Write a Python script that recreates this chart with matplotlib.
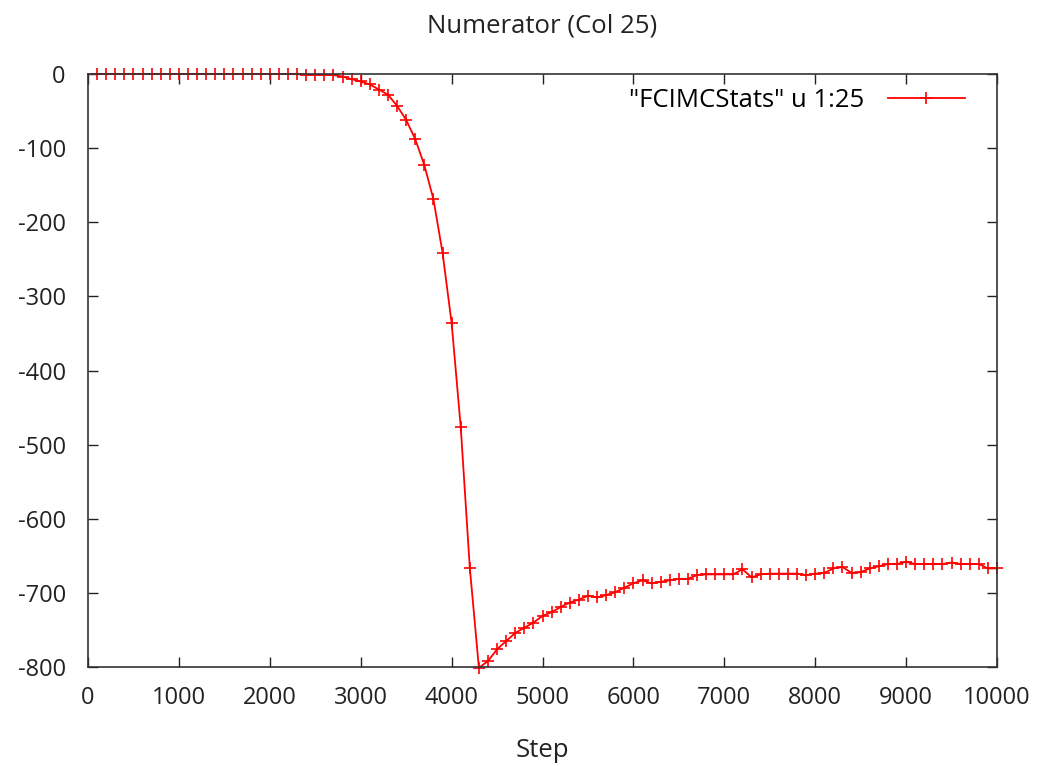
import matplotlib
matplotlib.use('Agg')
import matplotlib.pyplot as plt

# data (gnuplot output, every 100 steps)
steps = list(range(100, 10001, 100))
numerator = ([0] * 23 + [
    -1, -1, -1, -1.5, -3.5, -7, -10, -14, -21, -28,
    -43, -62, -88, -123, -169, -241, -336, -476, -666, -801,
    -792, -776, -765, -754, -747, -740, -731, -726, -719, -713,
    -709, -704, -706, -703, -699, -693, -687, -683, -687, -685,
    -683, -681, -681, -676, -675, -675, -675, -675, -668, -679,
    -675, -674, -674, -674, -674, -676, -674, -673, -667, -665,
    -673, -672, -667, -664, -661, -661, -658, -661, -661, -661,
    -661, -659, -661, -661, -661, -667, -667,
])

xticks = list(range(0, 10001, 1000))
yticks = list(range(-800, 1, 100))

plt.rcParams['font.family'] = ['Open Sans', 'DejaVu Sans']
plt.rcParams['axes.unicode_minus'] = False

fig = plt.figure(figsize=(10.42, 7.66), dpi=100)
ax = fig.add_axes([0.0845, 0.1292, 0.8723, 0.7742])

ax.plot(steps, numerator, color='#ff0000', lw=1.3, marker='+',
        markersize=9, markeredgewidth=1.2, clip_on=False,
        label='"FCIMCStats" u 1:25')

ax.set_xlim(0, 10000)
ax.set_ylim(-800, 0)
ax.set_xticks(xticks)
ax.set_yticks(yticks)
ax.tick_params(direction='in', length=7, width=1, labelsize=17,
               top=True, right=True, colors='#222222')
ax.tick_params(axis='y', pad=16)
ax.tick_params(axis='x', pad=14)
for s in ax.spines.values():
    s.set_linewidth(1.2)
    s.set_color('#333333')

ax.set_title('Numerator (Col 25)', fontsize=18.5, pad=30, color='#222222')
ax.set_xlabel('Step', fontsize=18.5, labelpad=20, color='#222222')

leg = ax.legend(loc='upper right', frameon=False, fontsize=18.5,
                markerfirst=False, handlelength=3.0, handletextpad=0.9,
                bbox_to_anchor=(0.99, 1.015))

fig.savefig('out.png', dpi=100)
plt.close()
